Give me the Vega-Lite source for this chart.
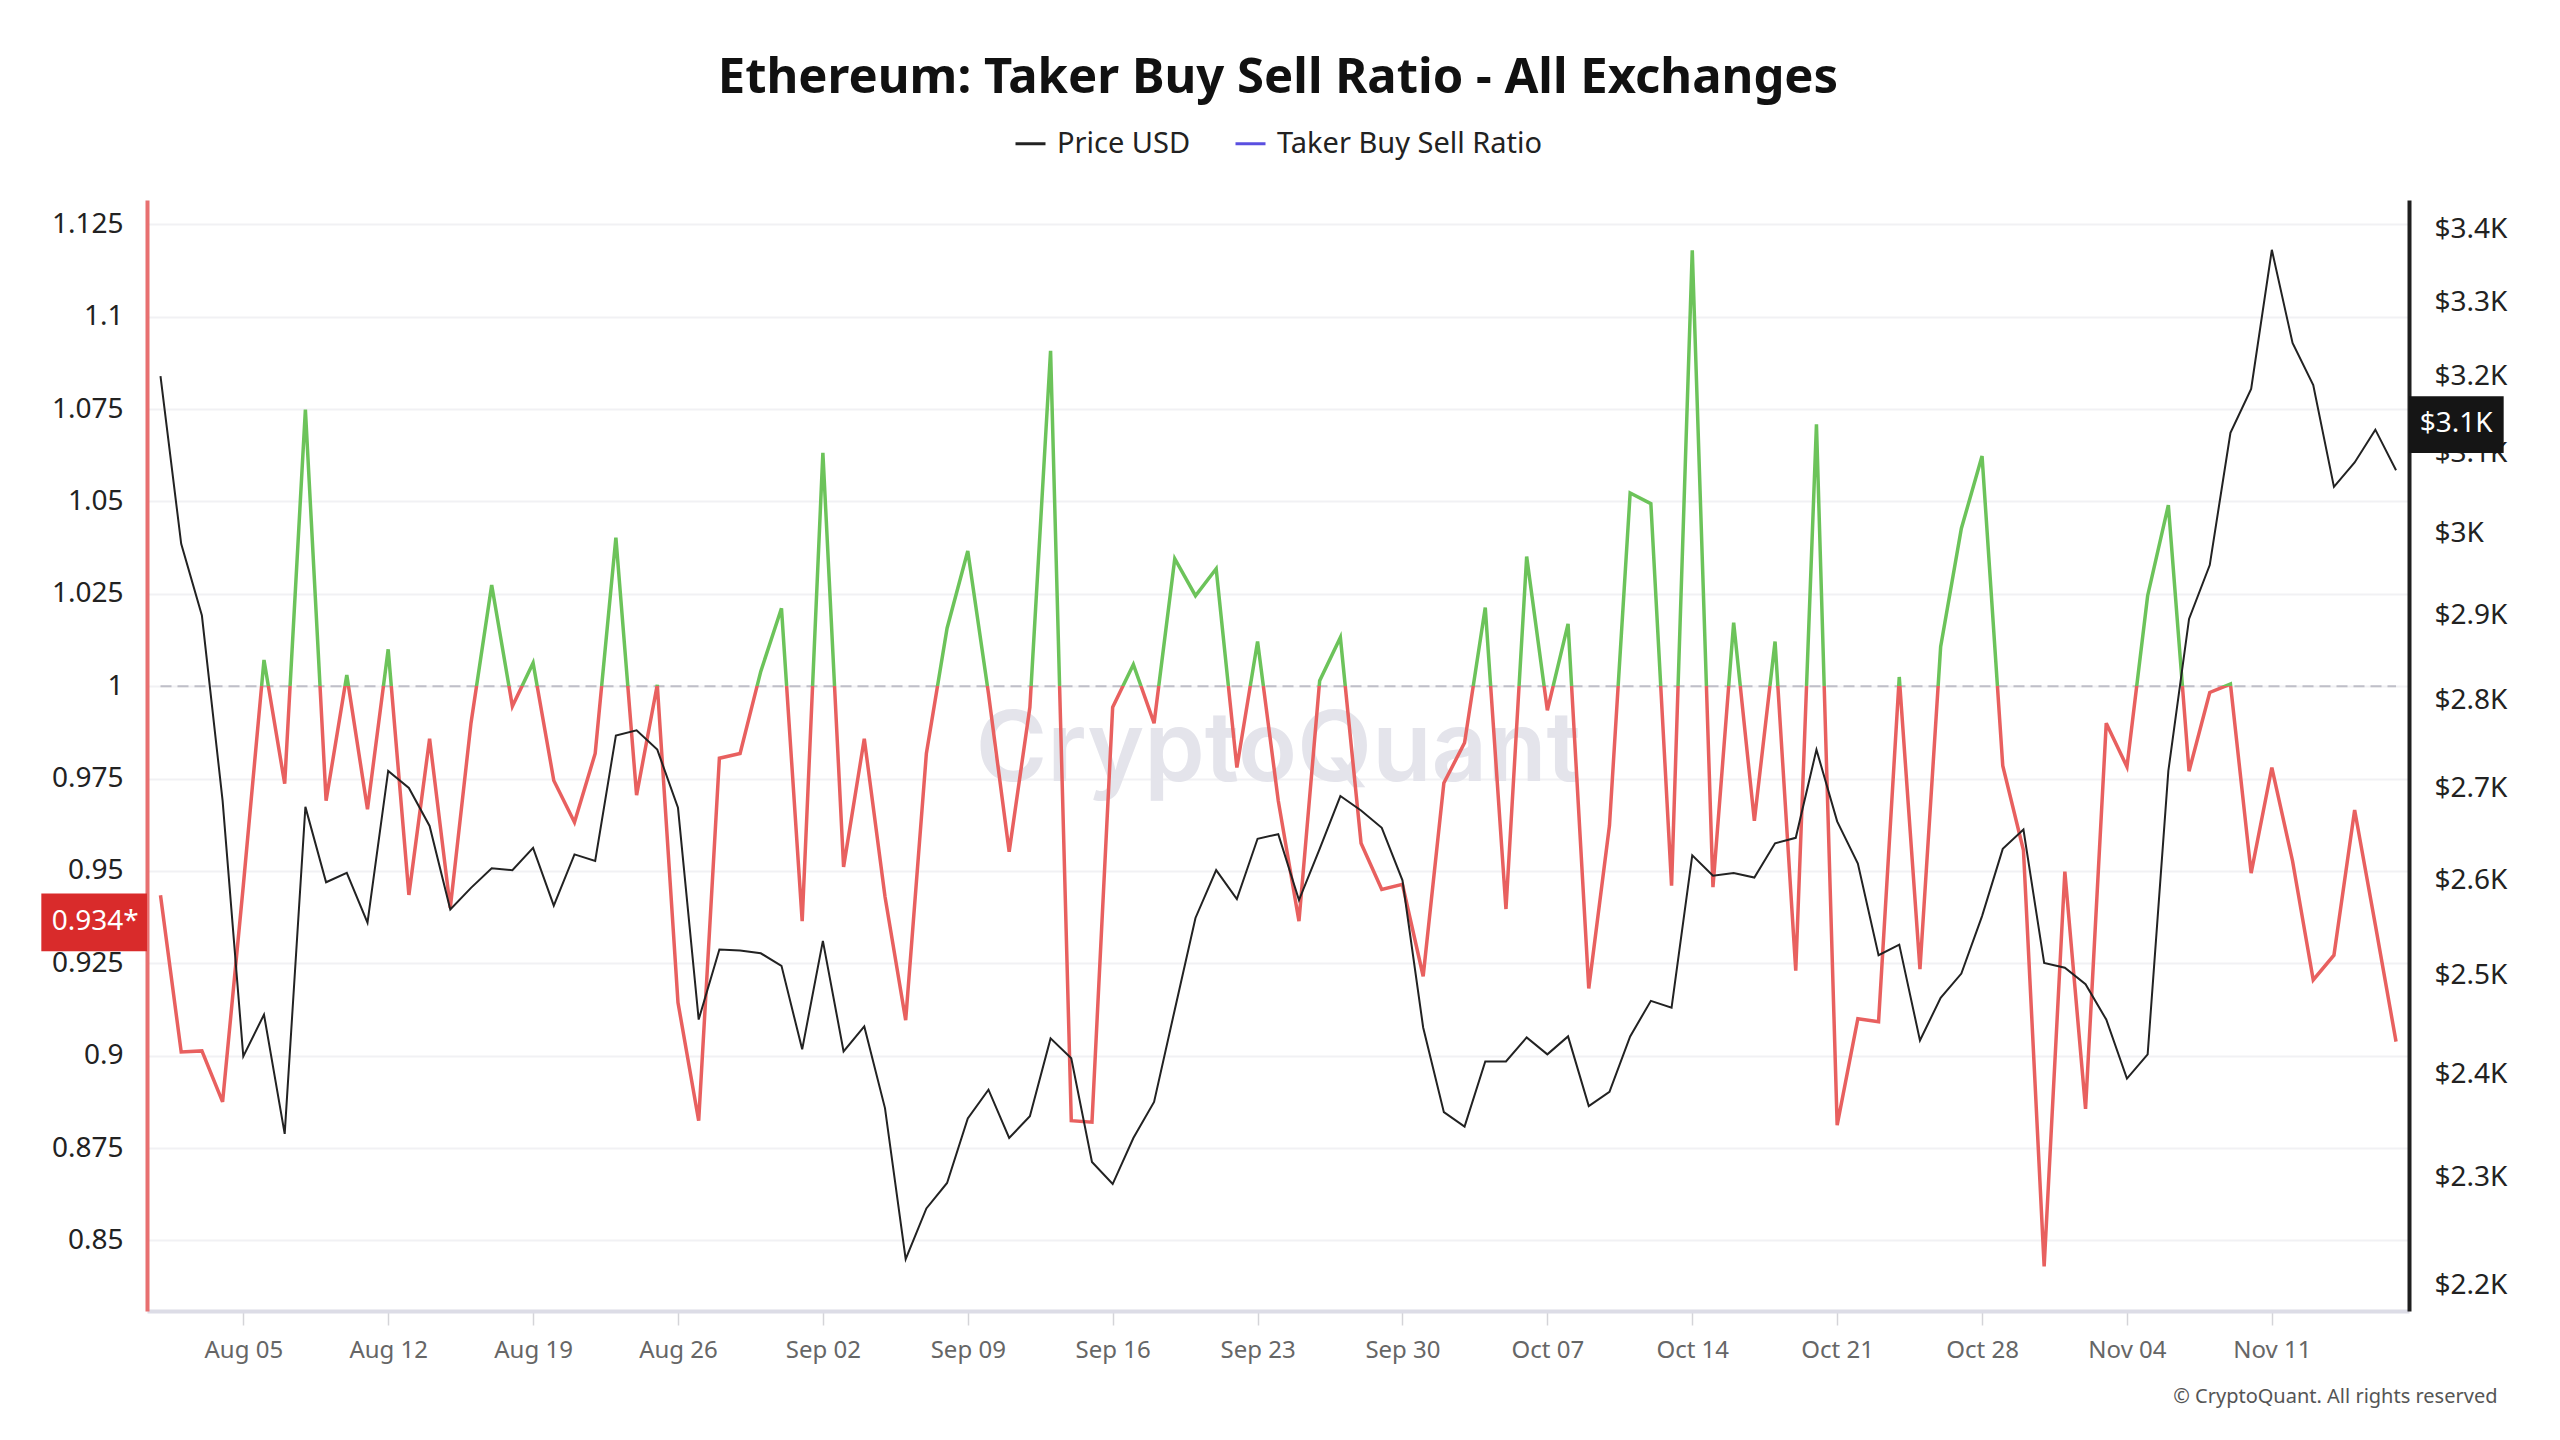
{
  "$schema": "https://vega.github.io/schema/vega-lite/v6.json",
  "width": 2262,
  "height": 1111,
  "autosize": {"type": "none"},
  "padding": {"left": 147, "top": 200, "right": 151, "bottom": 129},
  "background": "white",
  "config": {"view": {"stroke": null}, "font": "Noto Sans"},
  "title": {
    "text": "Ethereum: Taker Buy Sell Ratio - All Exchanges",
    "font": "Noto Sans",
    "fontSize": 49,
    "fontWeight": "bold",
    "color": "#111111",
    "anchor": "middle",
    "baseline": "alphabetic",
    "offset": -15
  },
  "data": {
    "values": [
      {"date": "2024-08-01", "ratio": 0.9434, "price": 3201},
      {"date": "2024-08-02", "ratio": 0.901, "price": 2987},
      {"date": "2024-08-03", "ratio": 0.9013, "price": 2900},
      {"date": "2024-08-04", "ratio": 0.8875, "price": 2687},
      {"date": "2024-08-05", "ratio": 0.946, "price": 2418},
      {"date": "2024-08-06", "ratio": 1.0071, "price": 2460},
      {"date": "2024-08-07", "ratio": 0.9736, "price": 2342},
      {"date": "2024-08-08", "ratio": 1.0749, "price": 2680},
      {"date": "2024-08-09", "ratio": 0.969, "price": 2598},
      {"date": "2024-08-10", "ratio": 1.003, "price": 2608},
      {"date": "2024-08-11", "ratio": 0.9667, "price": 2555},
      {"date": "2024-08-12", "ratio": 1.01, "price": 2720},
      {"date": "2024-08-13", "ratio": 0.9435, "price": 2701},
      {"date": "2024-08-14", "ratio": 0.9858, "price": 2659},
      {"date": "2024-08-15", "ratio": 0.94, "price": 2569},
      {"date": "2024-08-16", "ratio": 0.99, "price": 2592},
      {"date": "2024-08-17", "ratio": 1.0274, "price": 2613},
      {"date": "2024-08-18", "ratio": 0.9946, "price": 2611},
      {"date": "2024-08-19", "ratio": 1.0063, "price": 2635},
      {"date": "2024-08-20", "ratio": 0.9745, "price": 2573},
      {"date": "2024-08-21", "ratio": 0.9632, "price": 2628},
      {"date": "2024-08-22", "ratio": 0.9818, "price": 2621},
      {"date": "2024-08-23", "ratio": 1.0402, "price": 2760},
      {"date": "2024-08-24", "ratio": 0.9705, "price": 2766},
      {"date": "2024-08-25", "ratio": 1.0004, "price": 2744},
      {"date": "2024-08-26", "ratio": 0.9144, "price": 2679},
      {"date": "2024-08-27", "ratio": 0.8824, "price": 2455},
      {"date": "2024-08-28", "ratio": 0.9805, "price": 2527},
      {"date": "2024-08-29", "ratio": 0.9818, "price": 2526},
      {"date": "2024-08-30", "ratio": 1.004, "price": 2523},
      {"date": "2024-08-31", "ratio": 1.0211, "price": 2510},
      {"date": "2024-09-01", "ratio": 0.9364, "price": 2425},
      {"date": "2024-09-02", "ratio": 1.0632, "price": 2536},
      {"date": "2024-09-03", "ratio": 0.9511, "price": 2423},
      {"date": "2024-09-04", "ratio": 0.9858, "price": 2448},
      {"date": "2024-09-05", "ratio": 0.9431, "price": 2367},
      {"date": "2024-09-06", "ratio": 0.9096, "price": 2224},
      {"date": "2024-09-07", "ratio": 0.9818, "price": 2271},
      {"date": "2024-09-08", "ratio": 1.0157, "price": 2295},
      {"date": "2024-09-09", "ratio": 1.0366, "price": 2357},
      {"date": "2024-09-10", "ratio": 0.998, "price": 2385},
      {"date": "2024-09-11", "ratio": 0.9552, "price": 2338},
      {"date": "2024-09-12", "ratio": 0.9943, "price": 2359},
      {"date": "2024-09-13", "ratio": 1.0908, "price": 2436},
      {"date": "2024-09-14", "ratio": 0.8824, "price": 2416},
      {"date": "2024-09-15", "ratio": 0.882, "price": 2315},
      {"date": "2024-09-16", "ratio": 0.9943, "price": 2294},
      {"date": "2024-09-17", "ratio": 1.0059, "price": 2338},
      {"date": "2024-09-18", "ratio": 0.99, "price": 2373},
      {"date": "2024-09-19", "ratio": 1.0345, "price": 2465},
      {"date": "2024-09-20", "ratio": 1.0245, "price": 2560},
      {"date": "2024-09-21", "ratio": 1.0318, "price": 2611},
      {"date": "2024-09-22", "ratio": 0.978, "price": 2580},
      {"date": "2024-09-23", "ratio": 1.0121, "price": 2645},
      {"date": "2024-09-24", "ratio": 0.969, "price": 2650},
      {"date": "2024-09-25", "ratio": 0.9364, "price": 2579},
      {"date": "2024-09-26", "ratio": 1.0015, "price": 2634},
      {"date": "2024-09-27", "ratio": 1.0132, "price": 2692},
      {"date": "2024-09-28", "ratio": 0.9575, "price": 2676},
      {"date": "2024-09-29", "ratio": 0.945, "price": 2657},
      {"date": "2024-09-30", "ratio": 0.9464, "price": 2600},
      {"date": "2024-10-01", "ratio": 0.9215, "price": 2447},
      {"date": "2024-10-02", "ratio": 0.9738, "price": 2363},
      {"date": "2024-10-03", "ratio": 0.9847, "price": 2349},
      {"date": "2024-10-04", "ratio": 1.0213, "price": 2413},
      {"date": "2024-10-05", "ratio": 0.9397, "price": 2413},
      {"date": "2024-10-06", "ratio": 1.0351, "price": 2437},
      {"date": "2024-10-07", "ratio": 0.9935, "price": 2420},
      {"date": "2024-10-08", "ratio": 1.0169, "price": 2438},
      {"date": "2024-10-09", "ratio": 0.9182, "price": 2369},
      {"date": "2024-10-10", "ratio": 0.9623, "price": 2383},
      {"date": "2024-10-11", "ratio": 1.0523, "price": 2438},
      {"date": "2024-10-12", "ratio": 1.0494, "price": 2474},
      {"date": "2024-10-13", "ratio": 0.946, "price": 2467},
      {"date": "2024-10-14", "ratio": 1.118, "price": 2627},
      {"date": "2024-10-15", "ratio": 0.9456, "price": 2605},
      {"date": "2024-10-16", "ratio": 1.0172, "price": 2608},
      {"date": "2024-10-17", "ratio": 0.9636, "price": 2603},
      {"date": "2024-10-18", "ratio": 1.0121, "price": 2640},
      {"date": "2024-10-19", "ratio": 0.923, "price": 2646},
      {"date": "2024-10-20", "ratio": 1.0709, "price": 2744},
      {"date": "2024-10-21", "ratio": 0.8812, "price": 2664},
      {"date": "2024-10-22", "ratio": 0.91, "price": 2618},
      {"date": "2024-10-23", "ratio": 0.9092, "price": 2521},
      {"date": "2024-10-24", "ratio": 1.0025, "price": 2532},
      {"date": "2024-10-25", "ratio": 0.9234, "price": 2434},
      {"date": "2024-10-26", "ratio": 1.0107, "price": 2477},
      {"date": "2024-10-27", "ratio": 1.0427, "price": 2502},
      {"date": "2024-10-28", "ratio": 1.0623, "price": 2562},
      {"date": "2024-10-29", "ratio": 0.9785, "price": 2634},
      {"date": "2024-10-30", "ratio": 0.9556, "price": 2655},
      {"date": "2024-10-31", "ratio": 0.843, "price": 2513},
      {"date": "2024-11-01", "ratio": 0.9498, "price": 2508},
      {"date": "2024-11-02", "ratio": 0.8856, "price": 2491},
      {"date": "2024-11-03", "ratio": 0.99, "price": 2455},
      {"date": "2024-11-04", "ratio": 0.9782, "price": 2396},
      {"date": "2024-11-05", "ratio": 1.0245, "price": 2420},
      {"date": "2024-11-06", "ratio": 1.049, "price": 2720},
      {"date": "2024-11-07", "ratio": 0.977, "price": 2896},
      {"date": "2024-11-08", "ratio": 0.9983, "price": 2961},
      {"date": "2024-11-09", "ratio": 1.0006, "price": 3127},
      {"date": "2024-11-10", "ratio": 0.9494, "price": 3184},
      {"date": "2024-11-11", "ratio": 0.978, "price": 3372},
      {"date": "2024-11-12", "ratio": 0.9527, "price": 3245},
      {"date": "2024-11-13", "ratio": 0.9205, "price": 3189},
      {"date": "2024-11-14", "ratio": 0.9272, "price": 3058},
      {"date": "2024-11-15", "ratio": 0.9665, "price": 3089},
      {"date": "2024-11-16", "ratio": 0.9354, "price": 3131},
      {"date": "2024-11-17", "ratio": 0.9038, "price": 3079}
    ]
  },
  "layer": [
    {
      "layer": [
        {
          "data": {"values": [{}]},
          "mark": {"type": "text", "text": "CryptoQuant", "font": "Inter", "fontSize": 97, "fontWeight": 600, "color": "#e4e4eb", "align": "center", "baseline": "alphabetic"},
          "encoding": {
            "x": {"datum": 1727136000000, "type": "temporal", "scale": {"type": "utc", "domain": [1722414067200, 1731855686400]}},
            "y": {"datum": 0.9743, "type": "quantitative", "scale": {"domain": [0.8309, 1.1316]}}
          }
        },
        {
          "data": {"values": [{}]},
          "mark": {"type": "rule", "color": "#bfbfc8", "strokeWidth": 2, "strokeDash": [11, 6]},
          "encoding": {
            "x": {"datum": 1722470400000, "type": "temporal", "scale": {"type": "utc", "domain": [1722414067200, 1731855686400]}},
            "x2": {"datum": 1731801600000},
            "y": {"datum": 1, "type": "quantitative", "scale": {"domain": [0.8309, 1.1316]}}
          }
        },
        {
          "mark": {
            "type": "line",
            "strokeWidth": 3.5,
            "stroke": {
              "gradient": "linear",
              "x1": 0, "y1": 0, "x2": 0, "y2": 1,
              "stops": [
                {"offset": 0, "color": "#6cc35a"},
                {"offset": 0.429091, "color": "#6cc35a"},
                {"offset": 0.429091, "color": "#e8605f"},
                {"offset": 1, "color": "#e8605f"}
              ]
            }
          },
          "encoding": {
            "x": {
              "field": "date", "type": "temporal",
              "scale": {"type": "utc", "domain": [1722414067200, 1731855686400]},
              "axis": {
                "title": null,
                "values": [1722816000000, 1723420800000, 1724025600000, 1724630400000, 1725235200000, 1725840000000, 1726444800000, 1727049600000, 1727654400000, 1728259200000, 1728864000000, 1729468800000, 1730073600000, 1730678400000, 1731283200000],
                "labelExpr": "utcFormat(datum.value, '%b %d')",
                "labelFont": "Noto Sans",
                "labelFontSize": 24,
                "labelColor": "#666666",
                "labelPadding": 13,
                "tickSize": 14,
                "tickColor": "#d4d4d8",
                "tickWidth": 1.5,
                "domainColor": "#dcdce6",
                "domainWidth": 4,
                "grid": false
              }
            },
            "y": {
              "field": "ratio", "type": "quantitative",
              "scale": {"domain": [0.8309, 1.1316]},
              "axis": {
                "title": null,
                "orient": "left",
                "values": [0.85, 0.875, 0.9, 0.925, 0.95, 0.975, 1, 1.025, 1.05, 1.075, 1.1, 1.125],
                "format": ".4~g",
                "labelFont": "Noto Sans",
                "labelFontSize": 28,
                "labelColor": "#222222",
                "labelPadding": 24,
                "ticks": false,
                "tickSize": 0,
                "domainColor": "#e87070",
                "domainWidth": 4,
                "grid": true,
                "gridColor": "#f1f1f4",
                "gridWidth": 2
              }
            }
          }
        },
        {
          "data": {"values": [{}]},
          "mark": {"type": "rect", "color": "#d92b2b"},
          "encoding": {
            "x": {"datum": 1721972995200, "type": "temporal", "scale": {"type": "utc", "domain": [1722414067200, 1731855686400]}},
            "x2": {"datum": 1722414067200},
            "y": {"datum": 0.9439, "type": "quantitative", "scale": {"domain": [0.8309, 1.1316]}},
            "y2": {"datum": 0.9283}
          }
        },
        {
          "data": {"values": [{}]},
          "mark": {"type": "text", "text": "0.934*", "font": "Noto Sans", "fontSize": 28, "color": "#ffffff", "align": "center", "baseline": "middle"},
          "encoding": {
            "x": {"datum": 1722198240000, "type": "temporal", "scale": {"type": "utc", "domain": [1722414067200, 1731855686400]}},
            "y": {"datum": 0.9361, "type": "quantitative", "scale": {"domain": [0.8309, 1.1316]}}
          }
        },
        {
          "data": {"values": [{}]},
          "mark": {"type": "text", "text": "© CryptoQuant. All rights reserved", "font": "Noto Sans", "fontSize": 20, "color": "#555555", "align": "right", "baseline": "middle"},
          "encoding": {
            "x": {"datum": 1732224960000, "type": "temporal", "scale": {"type": "utc", "domain": [1722414067200, 1731855686400]}},
            "y": {"datum": 0.8076, "type": "quantitative", "scale": {"domain": [0.8309, 1.1316]}}
          }
        }
      ]
    },
    {
      "layer": [
        {
          "mark": {"type": "line", "strokeWidth": 2},
          "encoding": {
            "x": {"field": "date", "type": "temporal", "scale": {"type": "utc", "domain": [1722414067200, 1731855686400]}},
            "y": {
              "field": "price", "type": "quantitative",
              "scale": {"type": "log", "domain": [2177, 3442]},
              "axis": {
                "title": null,
                "orient": "right",
                "values": [2200, 2300, 2400, 2500, 2600, 2700, 2800, 2900, 3000, 3100, 3200, 3300, 3400],
                "labelExpr": "'$' + format(datum.value / 1000, '~g') + 'K'",
                "labelFont": "Noto Sans",
                "labelFontSize": 28,
                "labelColor": "#222222",
                "labelPadding": 25,
                "ticks": false,
                "tickSize": 0,
                "domainColor": "#1f1f1f",
                "domainWidth": 4,
                "grid": false
              }
            },
            "stroke": {
              "datum": "Price USD",
              "type": "nominal",
              "scale": {"domain": ["Price USD", "Taker Buy Sell Ratio"], "range": ["#222222", "#5a4fe0"]},
              "legend": {
                "title": null,
                "orient": "none",
                "legendX": 867,
                "legendY": -73,
                "direction": "horizontal",
                "labelFont": "Noto Sans",
                "labelFontSize": 29,
                "labelColor": "#222222",
                "labelLimit": 800,
                "labelOffset": 10,
                "columnPadding": 38,
                "symbolType": "stroke",
                "symbolSize": 900,
                "symbolStrokeWidth": 3
              }
            }
          }
        },
        {
          "data": {"values": [{}]},
          "mark": {"type": "rect", "color": "#151515"},
          "encoding": {
            "x": {"datum": 1731855686400, "type": "temporal", "scale": {"type": "utc", "domain": [1722414067200, 1731855686400]}},
            "x2": {"datum": 1732250880000},
            "y": {"datum": 3174.6, "type": "quantitative", "scale": {"type": "log", "domain": [2177, 3442]}},
            "y2": {"datum": 3101}
          }
        },
        {
          "data": {"values": [{}]},
          "mark": {"type": "text", "text": "$3.1K", "font": "Noto Sans", "fontSize": 28, "color": "#ffffff", "align": "center", "baseline": "middle"},
          "encoding": {
            "x": {"datum": 1732052678400, "type": "temporal", "scale": {"type": "utc", "domain": [1722414067200, 1731855686400]}},
            "y": {"datum": 3137.8, "type": "quantitative", "scale": {"type": "log", "domain": [2177, 3442]}}
          }
        }
      ]
    }
  ],
  "resolve": {"scale": {"y": "independent"}}
}
